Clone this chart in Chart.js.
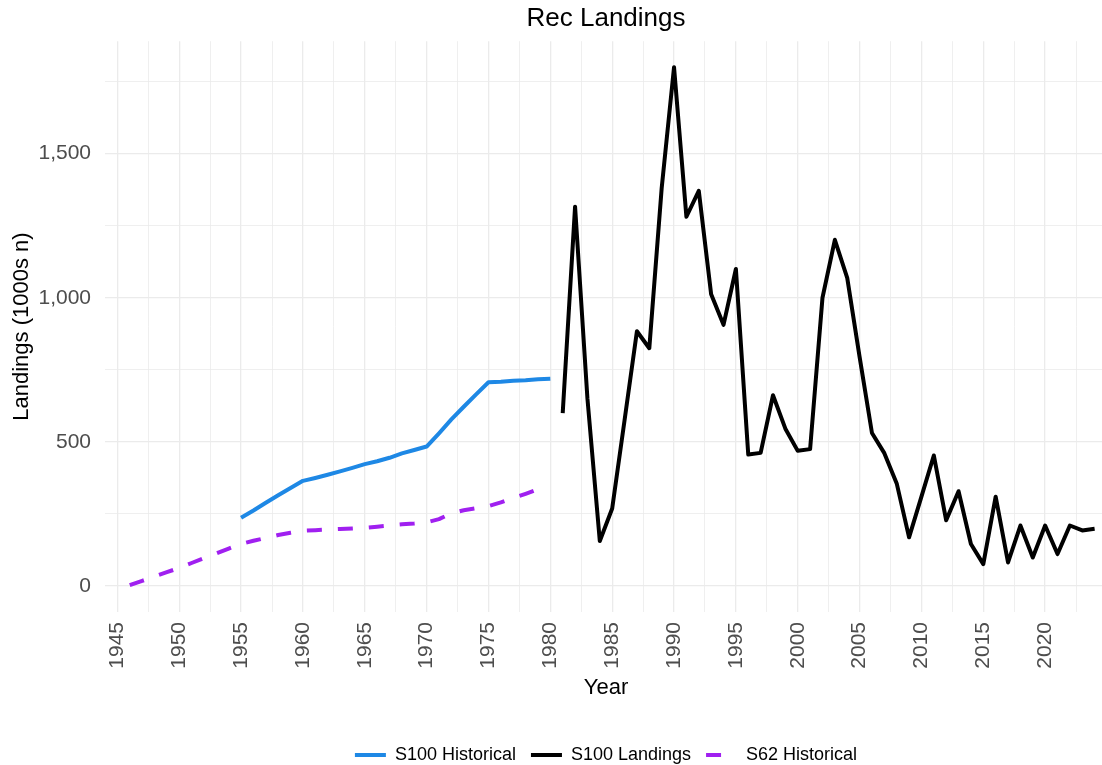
<!DOCTYPE html>
<html>
<head>
<meta charset="utf-8">
<title>Rec Landings</title>
<script src="https://cdn.jsdelivr.net/npm/chart.js@4.4.1/dist/chart.umd.min.js"></script>
<style>
    html, body { margin: 0; padding: 0; background: #ffffff; overflow: hidden; }
    /* canvas is a bit wider than the window so the panel runs off the right edge like the original */
    #wrap { width: 1212px; height: 765px; }
</style>
</head>
<body>
<div id="wrap"><canvas id="landingsChart"></canvas></div>
<script>
// Rec landings (1000s n)

// S100 Historical
const histYears = [1955, 1956, 1957, 1958, 1959, 1960, 1961, 1962, 1963, 1964, 1965, 1966, 1967,
    1968, 1969, 1970, 1971, 1972, 1973, 1974, 1975, 1976, 1977, 1978, 1979, 1980];
const histValues = [237, 262, 289, 315, 340, 365, 375, 386, 398, 410, 423, 433, 445,
    460, 472, 484, 530, 578, 622, 665, 707, 709, 712, 714, 717, 719];

// S100 Landings
const landYears = [1981, 1982, 1983, 1984, 1985, 1986, 1987, 1988, 1989, 1990, 1991, 1992, 1993,
    1994, 1995, 1996, 1997, 1998, 1999, 2000, 2001, 2002, 2003, 2004, 2005, 2006, 2007, 2008,
    2009, 2010, 2011, 2012, 2013, 2014, 2015, 2016, 2017, 2018, 2019, 2020, 2021, 2022, 2023, 2024];
const landValues = [600, 1316, 650, 156, 269, 575, 884, 825, 1380, 1800, 1281, 1371, 1012,
    906, 1100, 456, 462, 662, 546, 469, 475, 1000, 1201, 1069, 795, 531, 461, 356,
    169, 310, 453, 228, 329, 146, 76, 310, 82, 210, 99, 210, 111, 210, 193, 199];

// S62 Historical
const s62Years = [1946, 1947, 1948, 1949, 1950, 1951, 1952, 1953, 1954, 1955, 1956, 1957, 1958,
    1959, 1960, 1961, 1962, 1963, 1964, 1965, 1966, 1967, 1968, 1969, 1970, 1971, 1972, 1973,
    1974, 1975, 1976, 1977, 1978, 1979];
const s62Values = [3, 18, 33, 48, 63, 80, 97, 113, 130, 146, 157, 167, 177,
    185, 192, 194, 196, 198, 200, 202, 206, 210, 214, 217, 221, 232, 252, 263,
    270, 277, 290, 305, 320, 336];

// axis ticks
const xGridYears = [1945, 1947.5, 1950, 1952.5, 1955, 1957.5, 1960, 1962.5, 1965, 1967.5, 1970,
    1972.5, 1975, 1977.5, 1980, 1982.5, 1985, 1987.5, 1990, 1992.5, 1995, 1997.5, 2000, 2002.5,
    2005, 2007.5, 2010, 2012.5, 2015, 2017.5, 2020, 2022.5];
const xLabelYears = [1945, 1950, 1955, 1960, 1965, 1970, 1975, 1980, 1985, 1990, 1995, 2000,
    2005, 2010, 2015, 2020];
const yGridValues = [0, 250, 500, 750, 1000, 1250, 1500, 1750];
const yLabelValues = [0, 500, 1000, 1500];

const FONT = '"Liberation Sans", Arial, sans-serif';
const GRID = '#ebebeb';
const TICK_TEXT = '#4d4d4d';

function toPoints(xs, ys) {
    return xs.map((x, i) => ({ x: x, y: ys[i] }));
}

// legend keys: draw the dataset's own stroke (dash included), left to right
function legendLabels(chart) {
    const items = Chart.defaults.plugins.legend.labels.generateLabels(chart);
    items.forEach(item => {
        const ds = chart.data.datasets[item.datasetIndex];
        item.lineDash = ds.borderDash || [];
        item.lineWidth = ds.borderWidth;
        item.strokeStyle = ds.borderColor;
        item.rotation = 180;
    });
    return items;
}

function createLandingsChart() {
    const ctx = document.getElementById('landingsChart').getContext('2d');

    new Chart(ctx, {
        type: 'line',
        data: {
            datasets: [
                {
                    label: 'S100 Historical',
                    data: toPoints(histYears, histValues),
                    borderColor: '#1e88e5',
                    backgroundColor: '#1e88e5',
                    borderWidth: 4,
                    pointRadius: 0,
                    borderJoinStyle: 'round',
                    tension: 0
                },
                {
                    label: 'S100 Landings',
                    data: toPoints(landYears, landValues),
                    borderColor: '#000000',
                    backgroundColor: '#000000',
                    borderWidth: 4,
                    pointRadius: 0,
                    borderJoinStyle: 'round',
                    tension: 0
                },
                {
                    label: 'S62 Historical',
                    data: toPoints(s62Years, s62Values),
                    borderColor: '#a020f0',
                    backgroundColor: '#a020f0',
                    borderWidth: 4,
                    borderDash: [15, 16],
                    pointRadius: 0,
                    borderJoinStyle: 'round',
                    tension: 0
                }
            ]
        },
        options: {
            responsive: true,
            maintainAspectRatio: false,
            animation: false,
            layout: {
                padding: { left: 0, right: 0, top: 0, bottom: -9 }
            },
            plugins: {
                title: {
                    display: true,
                    text: 'Rec Landings',
                    color: '#000000',
                    font: { family: FONT, size: 26, weight: 'normal' },
                    padding: { top: 3, bottom: 7 }
                },
                legend: {
                    position: 'bottom',
                    labels: {
                        usePointStyle: true,
                        pointStyle: 'line',
                        pointStyleWidth: 31,
                        boxHeight: 18,
                        padding: 15,
                        color: '#000000',
                        font: { family: FONT, size: 18 },
                        generateLabels: legendLabels
                    }
                },
                tooltip: { enabled: false }
            },
            scales: {
                x: {
                    type: 'linear',
                    min: 1944,
                    max: 2025,
                    afterBuildTicks: function(scale) {
                        scale.ticks = xGridYears.map(v => ({ value: v }));
                    },
                    afterFit: function(scale) {
                        scale.height = 119;
                    },
                    border: { display: false },
                    grid: {
                        color: GRID,
                        drawTicks: false,
                        lineWidth: function(c) {
                            return c.tick && xLabelYears.includes(c.tick.value) ? 1.3 : 0.8;
                        }
                    },
                    ticks: {
                        autoSkip: false,
                        minRotation: 90,
                        maxRotation: 90,
                        padding: 10,
                        color: TICK_TEXT,
                        font: { family: FONT, size: 21 },
                        callback: function(value) {
                            return xLabelYears.includes(value) ? String(value) : '';
                        }
                    },
                    title: {
                        display: true,
                        text: 'Year',
                        color: '#000000',
                        font: { family: FONT, size: 22 },
                        padding: { top: 0, bottom: 30 }
                    }
                },
                y: {
                    min: -90,
                    max: 1890,
                    afterBuildTicks: function(scale) {
                        scale.ticks = yGridValues.map(v => ({ value: v }));
                    },
                    afterFit: function(scale) {
                        scale.width = 105;
                    },
                    border: { display: false },
                    grid: {
                        color: GRID,
                        drawTicks: false,
                        lineWidth: function(c) {
                            return c.tick && yLabelValues.includes(c.tick.value) ? 1.3 : 0.8;
                        }
                    },
                    ticks: {
                        padding: 14,
                        color: TICK_TEXT,
                        font: { family: FONT, size: 21 },
                        callback: function(value) {
                            return yLabelValues.includes(value) ? value.toLocaleString('en-US') : '';
                        }
                    },
                    title: {
                        display: true,
                        text: 'Landings (1000s n)',
                        color: '#000000',
                        font: { family: FONT, size: 22 },
                        padding: { top: 9, bottom: 0 }
                    }
                },
                // empty right-hand strip (off screen) so title and legend centre over the panel
                yRight: {
                    position: 'right',
                    display: true,
                    afterFit: function(scale) {
                        scale.width = 105;
                    },
                    border: { display: false },
                    grid: { display: false, drawTicks: false },
                    ticks: { display: false }
                }
            }
        }
    });
}

document.addEventListener('DOMContentLoaded', createLandingsChart);
</script>
</body>
</html>
